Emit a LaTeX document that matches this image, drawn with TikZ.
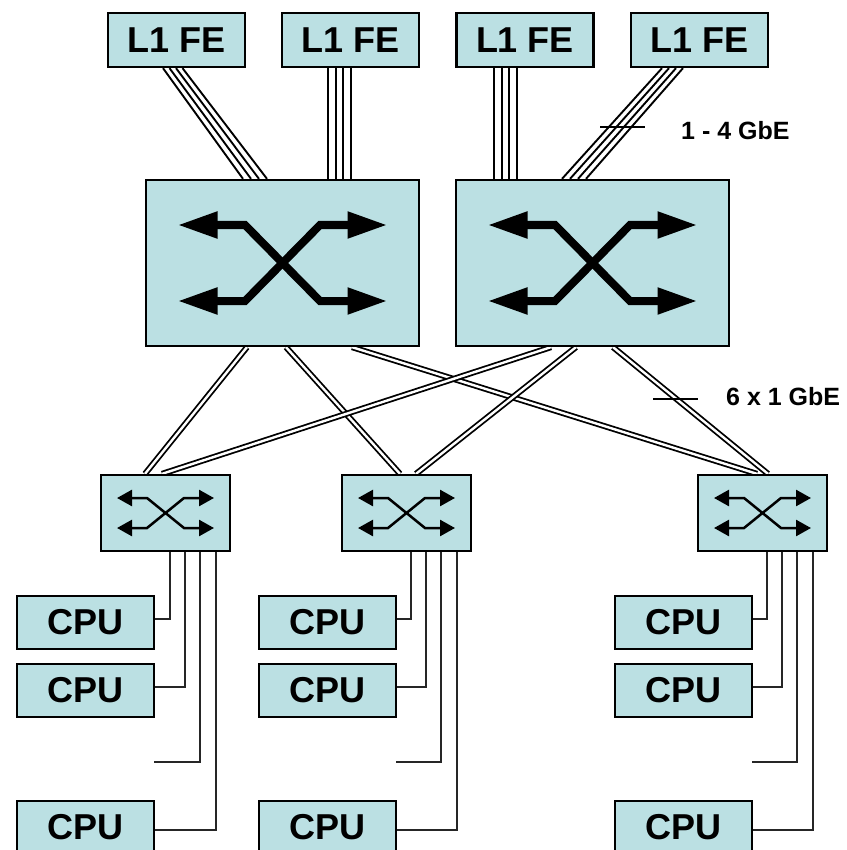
\documentclass[tikz,border=0pt]{standalone}
\usepackage{fontspec}
\setmainfont{Liberation Sans}
\usetikzlibrary{arrows.meta}
\definecolor{boxfill}{RGB}{187,224,227}
\pgfdeclarelayer{bg}
\pgfsetlayers{bg,main}

\begin{document}
\begin{tikzpicture}[x=1pt,y=-1pt,
  box/.style={draw=black, line width=2.3pt, fill=boxfill, inner sep=0pt,
    font=\fontsize{36}{36}\selectfont\bfseries},
  fe/.style={box, minimum width=137pt, minimum height=54pt},
  cpu/.style={box, minimum width=137pt, minimum height=53pt},
  bigsw/.style={box, minimum width=273pt, minimum height=166pt},
  smallsw/.style={box, minimum width=129pt, minimum height=76pt},
  fibre/.style={line width=1.9pt, draw=black},
  uplink/.style={draw=black, line width=1.8pt, double=white, double distance=2.4pt},
  port/.style={line width=2pt, draw=black!85},
  tag/.style={font=\fontsize{25}{25}\selectfont\bfseries, inner sep=0pt, anchor=base west},
  tick/.style={line width=1.6pt, draw=black},
  bigx/.pic={
    \draw[line width=8pt, {Triangle[length=40pt,width=25pt]}-{Triangle[length=40pt,width=25pt]}]
      (-105,-38) -- (-37.5,-38) -- (37.5,38) -- (105,38);
    \draw[line width=8pt, {Triangle[length=40pt,width=25pt]}-{Triangle[length=40pt,width=25pt]}]
      (-105,38) -- (-37.5,38) -- (37.5,-38) -- (105,-38);
  },
  smallx/.pic={
    \draw[line width=2.5pt, {Triangle[length=15pt,width=16pt]}-{Triangle[length=15pt,width=16pt]}]
      (-48.5,-15) -- (-18.5,-15) -- (18.5,15) -- (48.5,15);
    \draw[line width=2.5pt, {Triangle[length=15pt,width=16pt]}-{Triangle[length=15pt,width=16pt]}]
      (-48.5,15) -- (-18.5,15) -- (18.5,-15) -- (48.5,-15);
  }
]
\useasboundingbox (0,0) rectangle (846,850);

% front-end boxes
\node[fe] (fe1) at (176.5,40) {L1 FE};
\node[fe] (fe2) at (350.5,40) {L1 FE};
\node[fe] (fe3) at (525,40) {L1 FE};
\node[fe] (fe4) at (699.5,40) {L1 FE};

% core switches
\node[bigsw] (swL) at (282.5,263) {};
\node[bigsw] (swR) at (592.5,263) {};
\pic at (swL) {bigx};
\pic at (swR) {bigx};

% edge switches
\node[smallsw] (s1) at (165.5,513) {};
\node[smallsw] (s2) at (406.5,513) {};
\node[smallsw] (s3) at (762.5,513) {};
\pic at (s1) {smallx};
\pic at (s2) {smallx};
\pic at (s3) {smallx};

% compute nodes
\foreach \col/\x in {1/85.5, 2/327.5, 3/683.5} {
  \node[cpu] (c\col1) at (\x,622.5) {CPU};
  \node[cpu] (c\col2) at (\x,690.5) {CPU};
  \node[cpu] (c\col3) at (\x,827.5) {CPU};
}

% unused ports
\coordinate (n1) at (154,762);
\coordinate (n2) at (396,762);
\coordinate (n3) at (752,762);

% link labels
\node[tag] (gbe4) at (681,140) {1 - 4 GbE};
\node[tag] (gbe1) at (726,405) {6 x 1 GbE};

\begin{pgfonlayer}{bg}
  % front-end trunks (4 links each)
  \foreach \a/\b in {-13.5/-39.5, -7/-31.5, -0.5/-23.5, 6/-15.5}
    \draw[fibre] ([xshift=\a pt]fe1.south) -- ([xshift=\b pt]swL.north);
  \foreach \a/\b in {-22.5/45.5, -14.5/53.5, -7.5/60.5, 0.5/68.5}
    \draw[fibre] ([xshift=\a pt]fe2.south) -- ([xshift=\b pt]swL.north);
  \foreach \a/\b in {-31/-98.5, -23.3/-90.8, -15.7/-83.2, -8/-75.5}
    \draw[fibre] ([xshift=\a pt]fe3.south) -- ([xshift=\b pt]swR.north);
  \foreach \a/\b in {-37.5/-30.5, -30.5/-22.5, -23.5/-14.5, -16.5/-6.5}
    \draw[fibre] ([xshift=\a pt]fe4.south) -- ([xshift=\b pt]swR.north);

  % core to edge uplinks
  \draw[uplink] ([xshift=-35.5pt]swL.south) -- ([xshift=-20.5pt]s1.north);
  \draw[uplink] ([xshift=3.5pt]swL.south) -- ([xshift=-6.5pt]s2.north);
  \draw[uplink] ([xshift=69.5pt]swL.south) -- ([xshift=-5.5pt]s3.north);
  \draw[uplink] ([xshift=-41.5pt]swR.south) -- ([xshift=-3.5pt]s1.north);
  \draw[uplink] ([xshift=-16.5pt]swR.south) -- ([xshift=9.5pt]s2.north);
  \draw[uplink] ([xshift=20.5pt]swR.south) -- ([xshift=5.5pt]s3.north);

  % edge switch ports
  \foreach \col in {1,2,3} {
    \draw[port] ([xshift=4pt]s\col.south) |- ([yshift=3.5pt]c\col1.east);
    \draw[port] ([xshift=19pt]s\col.south) |- ([yshift=3.5pt]c\col2.east);
    \draw[port] ([xshift=34pt]s\col.south) |- (n\col);
    \draw[port] ([xshift=50pt]s\col.south) |- ([yshift=-2.5pt]c\col3.east);
  }
\end{pgfonlayer}

% link-count ticks
\draw[tick] (600,127) -- (645,127);
\draw[tick] (653,399) -- (698,399);
\end{tikzpicture}
\end{document}
